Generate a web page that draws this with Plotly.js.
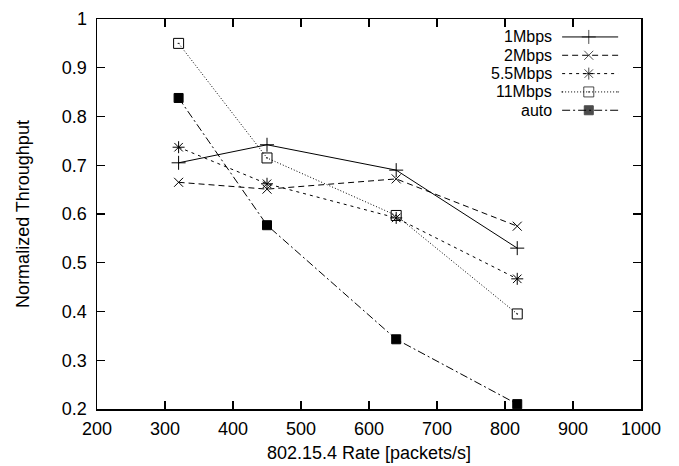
<!DOCTYPE html>
<html>
<head>
<meta charset="utf-8">
<script src="https://cdn.plot.ly/plotly-3.0.1.min.js"></script>
<style>html,body{margin:0;padding:0;background:#fff;}#chart{width:679px;height:466px;}</style>
</head>
<body>
<div id="chart"></div>
<script>
// ---- data ----
const rates = [320, 450, 640, 818];
const seriesNames = ["1Mbps", "2Mbps", "5.5Mbps", "11Mbps", "auto"];
const tp1 = [0.705, 0.742, 0.690, 0.530];
const tp2 = [0.665, 0.651, 0.672, 0.575];
const tp55 = [0.737, 0.662, 0.592, 0.467];
const tp11 = [0.950, 0.715, 0.597, 0.395];
const tpAuto = [0.838, 0.577, 0.343, 0.210];
const xTicks = [200, 300, 400, 500, 600, 700, 800, 900, 1000];
const yTicks = [0.2, 0.3, 0.4, 0.5, 0.6, 0.7, 0.8, 0.9, 1];

// ---- styles ----
const FONT = "'Liberation Sans', Arial, Helvetica, sans-serif";
const FS = 18;
const LFS = 16;
const styles = [
  {dash: "solid", symbol: "cross-thin-open", size: 10},
  {dash: "6px,4px", symbol: "x-thin-open", size: 9},
  {dash: "3px,4px", symbol: "asterisk-open", size: 10},
  {dash: "1px,2px", symbol: "square-open-dot", size: 10},
  {dash: "8px,3px,2px,3px", symbol: "square", size: 9}
];
const values = [tp1, tp2, tp55, tp11, tpAuto];

const traces = values.map((v, i) => ({
  x: rates, y: v, name: seriesNames[i], type: "scatter", mode: "lines+markers",
  line: {color: "#000", width: 1, dash: styles[i].dash},
  marker: {symbol: styles[i].symbol, size: styles[i].size, color: "#000",
           line: {color: "#000", width: 1}},
  showlegend: false, hoverinfo: "skip"
}));

// custom gnuplot-style legend (text right, sample to the right)
const legX = [0.855, 0.904, 0.958];
const legY = [0.954, 0.907, 0.860, 0.813, 0.766];
const annotations = [];
seriesNames.forEach((n, i) => {
  traces.push({
    x: legX, y: [legY[i], legY[i], legY[i]], xaxis: "x2", yaxis: "y2",
    type: "scatter", mode: "lines+markers", showlegend: false, hoverinfo: "skip",
    line: {color: "#000", width: 1, dash: styles[i].dash},
    marker: {symbol: styles[i].symbol, size: [0, styles[i].size, 0], color: "#000",
             line: {color: "#000", width: 1}}
  });
  annotations.push({
    xref: "paper", yref: "paper", x: 0.838, y: legY[i], xanchor: "right", yanchor: "middle",
    borderpad: 0,
    text: n, showarrow: false, font: {family: FONT, size: LFS, color: "#000"}
  });
});

const axisCommon = {
  showgrid: false, zeroline: false, showline: true, linecolor: "#000", linewidth: 1.5,
  mirror: "ticks", ticks: "inside", ticklen: 8, tickwidth: 1.2, tickcolor: "#000",
  tickfont: {family: FONT, size: FS, color: "#000"}
};

const layout = {
  width: 679, height: 466,
  margin: {l: 97, r: 38, t: 19, b: 57},
  paper_bgcolor: "#fff", plot_bgcolor: "#fff",
  font: {family: FONT, size: FS, color: "#000"},
  showlegend: false,
  xaxis: Object.assign({}, axisCommon, {
    range: [200, 1000], tickmode: "array", tickvals: xTicks, ticktext: xTicks.map(String),
    ticklabelstandoff: 3,
    title: {text: "802.15.4 Rate [packets/s]", font: {family: FONT, size: FS, color: "#000"}, standoff: 8}
  }),
  yaxis: Object.assign({}, axisCommon, {
    range: [0.2, 1], tickmode: "array", tickvals: yTicks, ticktext: yTicks.map(String),
    ticklabelstandoff: 5,
    title: {text: "Normalized Throughput", font: {family: FONT, size: FS, color: "#000"}, standoff: 27}
  }),
  xaxis2: {overlaying: "x", range: [0, 1], visible: false, fixedrange: true},
  yaxis2: {overlaying: "y", range: [0, 1], visible: false, fixedrange: true},
  annotations: annotations
};

Plotly.newPlot("chart", traces, layout, {staticPlot: true, displayModeBar: false});
</script>
</body>
</html>
